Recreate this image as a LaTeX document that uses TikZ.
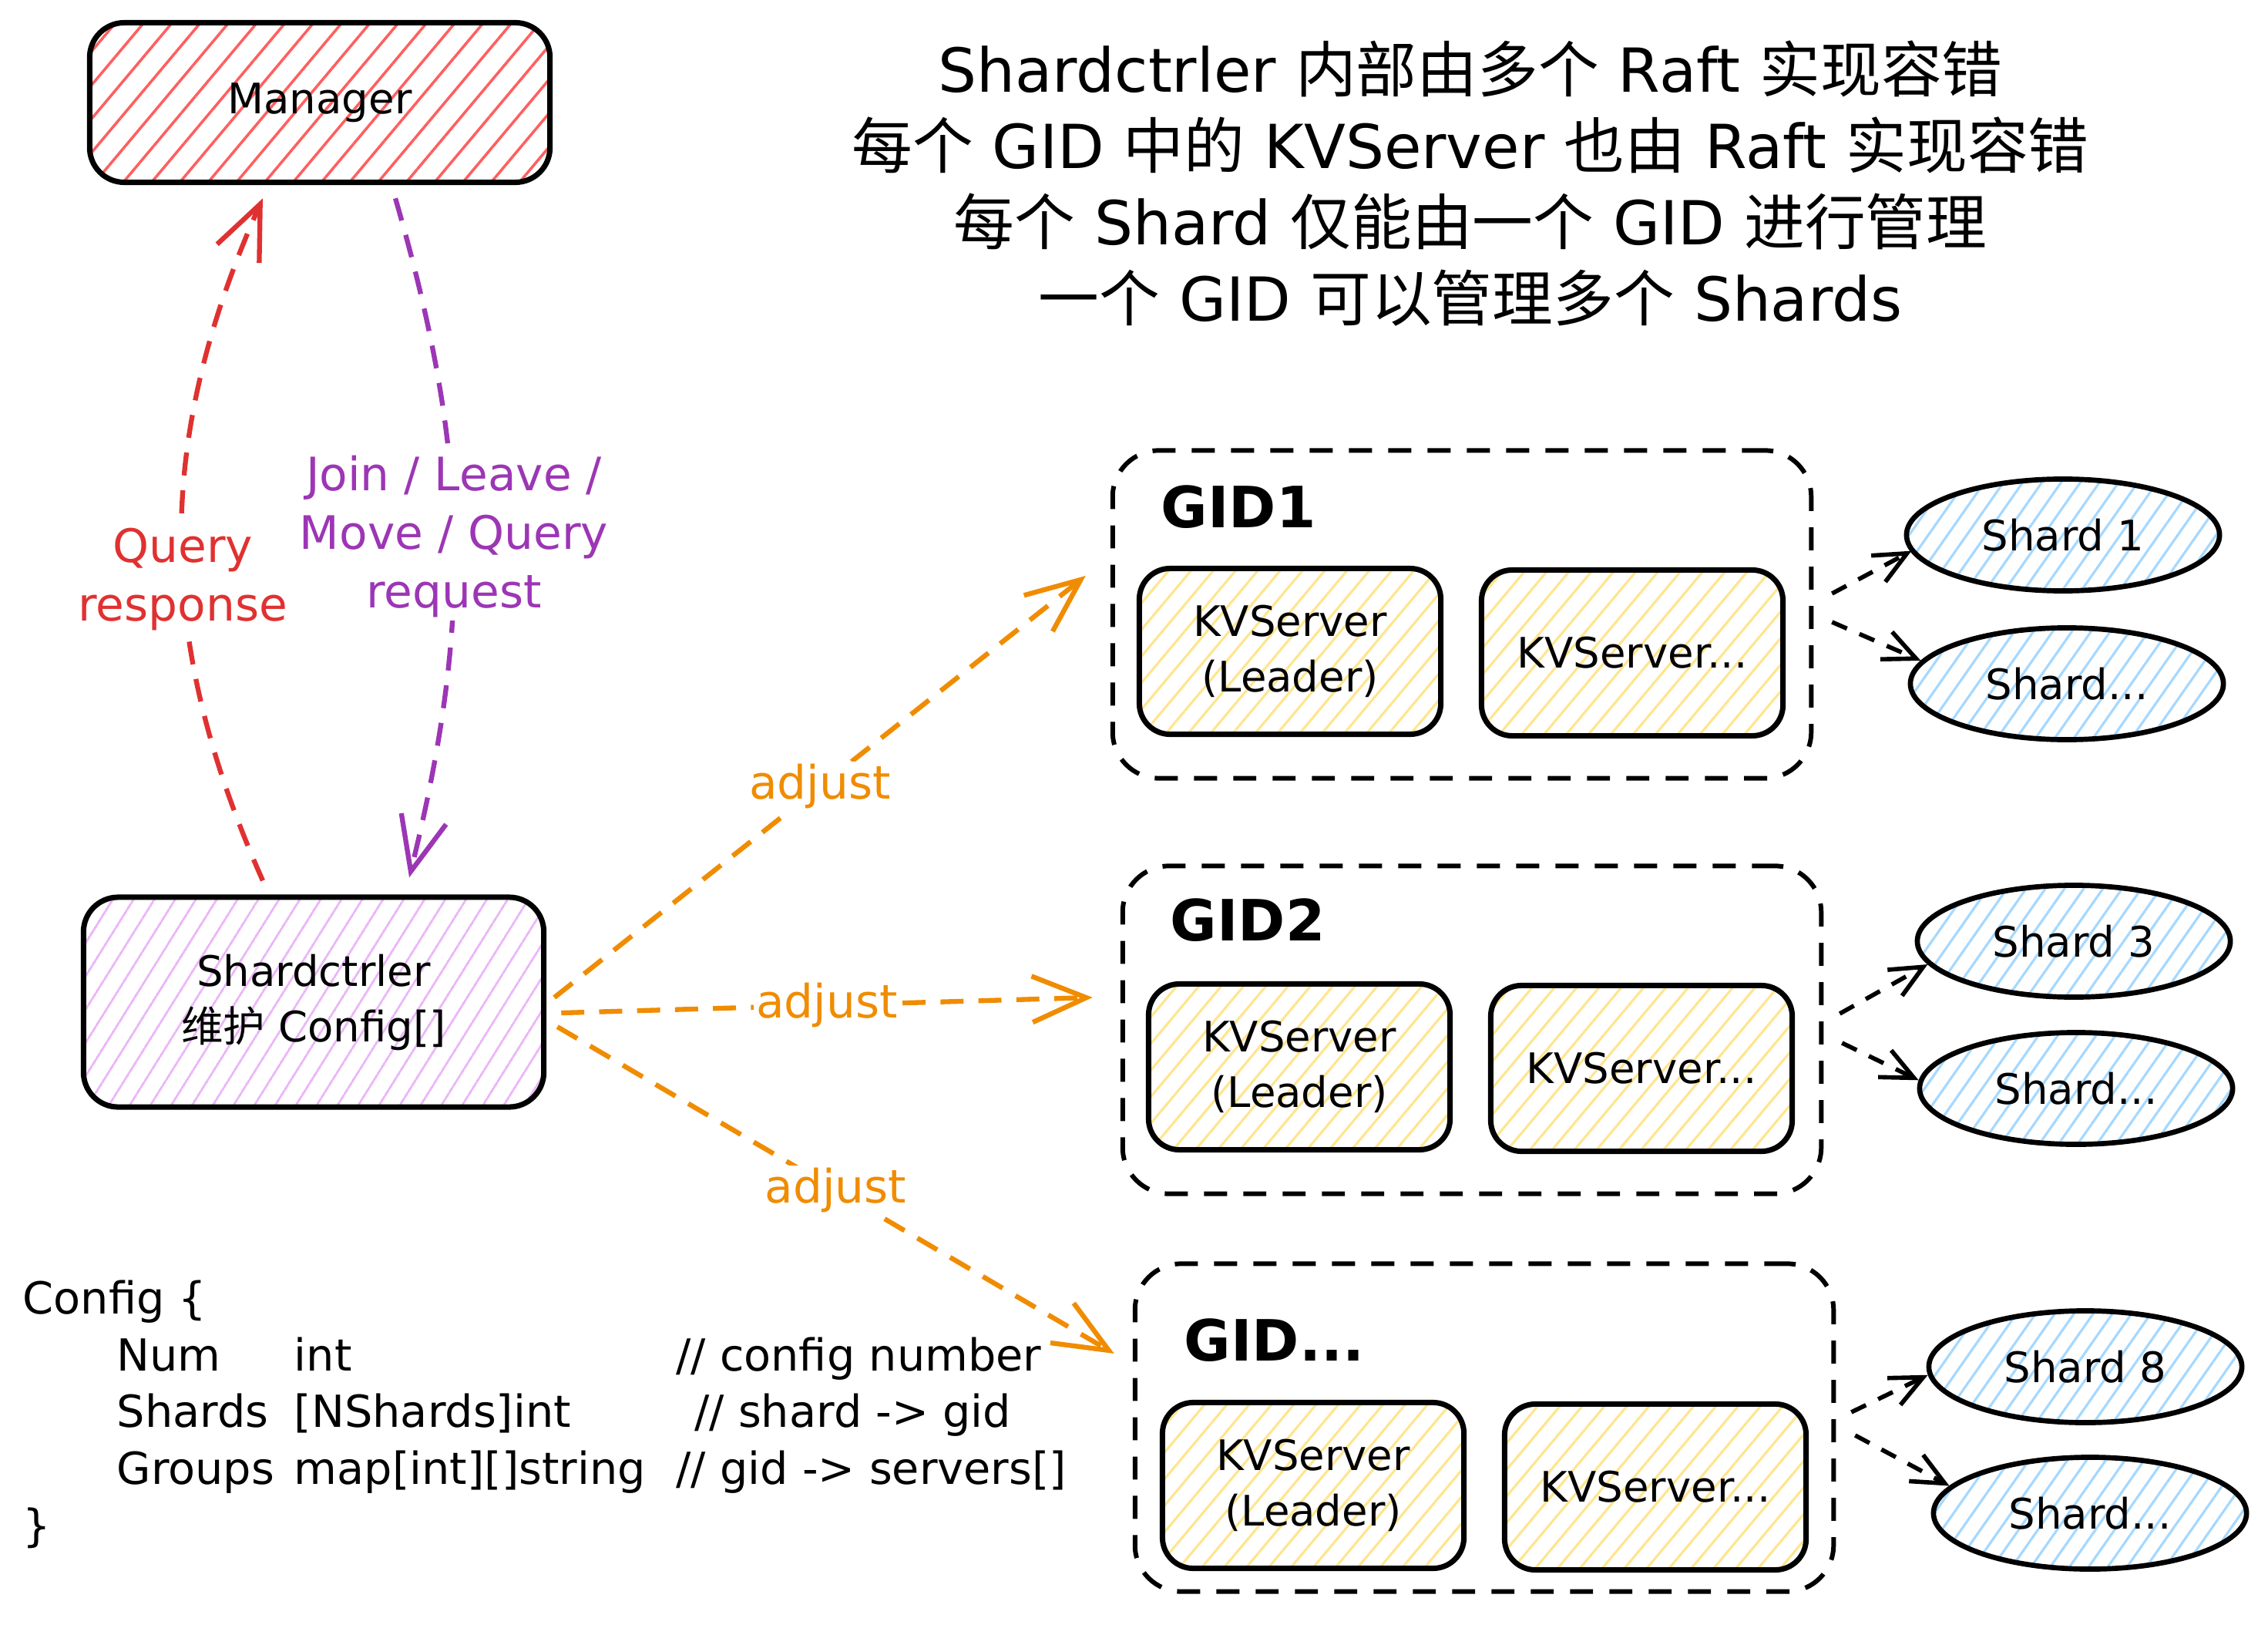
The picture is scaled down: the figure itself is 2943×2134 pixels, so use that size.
\documentclass[tikz,border=0pt]{standalone}
\usepackage{fontspec}
\setmainfont{DejaVu Sans}
\newfontfamily\cjk{Noto Sans CJK SC}
\usetikzlibrary{shapes.geometric}
\usetikzlibrary{arrows.meta}
\usetikzlibrary{patterns.meta}
\usepackage{xcolor}
\definecolor{arrowred}{HTML}{E03131}
\definecolor{arrowpurple}{HTML}{9C36B5}
\definecolor{arroworange}{HTML}{F08C00}
\definecolor{hatchred}{HTML}{FF5F5F}
\definecolor{hatchpurple}{HTML}{EAB6F7}
\definecolor{hatchyellow}{HTML}{FFE58F}
\definecolor{hatchblue}{HTML}{A5D8FF}
\newcommand{\titlefont}{\fontsize{22.4}{28.2}\selectfont}
\newcommand{\txtfont}{\fontsize{15.5}{20.5}\selectfont}
\newcommand{\codefont}{\fontsize{16.3}{21}\selectfont}
\newcommand{\arrowfont}{\fontsize{17}{21.6}\selectfont}
\newcommand{\gidfont}{\fontsize{21}{25}\selectfont\bfseries}
\tikzset{
  box/.style={draw, line width=2pt, rounded corners=0.45cm, align=center, font=\txtfont, minimum width=5.97cm},
  kvbox/.style={draw, line width=2pt, rounded corners=0.4cm, align=center, font=\txtfont,
    minimum width=3.91cm, minimum height=2.15cm,
    pattern={Lines[angle=50,distance=6.3pt,line width=0.9pt]}, pattern color=hatchyellow},
  shard/.style={draw, ellipse, line width=1.9pt, inner sep=0pt, font=\txtfont,
    minimum width=4.06cm, minimum height=1.45cm,
    pattern={Lines[angle=55,distance=5.8pt,line width=0.9pt]}, pattern color=hatchblue},
  group/.style={draw, line width=1.7pt, dash pattern=on 8.5pt off 6pt, rounded corners=0.6cm,
    minimum width=9.06cm, minimum height=4.25cm},
  gidlabel/.style={anchor=west, font=\gidfont, inner sep=0pt},
  flow/.style={line width=1.8pt, dash pattern=on 8.5pt off 5.5pt, -{Straight Barb[length=20pt,width=17pt]}},
  shardarrow/.style={line width=1.6pt, dash pattern=on 6pt off 5pt, -{Straight Barb[length=12pt,width=11pt]}},
  flowlabel/.style={fill=white, inner sep=1pt, align=center, font=\arrowfont}
}
\begin{document}
\begin{tikzpicture}[x=0.01cm, y=-0.01cm]
\useasboundingbox (0,0) rectangle (2943,2134);

% Title
\node[font=\titlefont, align=center] (title) at (1908,238)
  {Shardctrler {\cjk 内部由多个} Raft {\cjk 实现容错}\\
   {\cjk 每个} GID {\cjk 中的} KVServer {\cjk 也由} Raft {\cjk 实现容错}\\
   {\cjk 每个} Shard {\cjk 仅能由一个} GID {\cjk 进行管理}\\
   {\cjk 一个} GID {\cjk 可以管理多个} Shards};

% Manager and Shardctrler
\node[box, minimum height=2.07cm, pattern={Lines[angle=50,distance=8pt,line width=1pt]}, pattern color=hatchred] (manager) at (415,133) {Manager};
\node[box, minimum height=2.72cm, pattern={Lines[angle=58,distance=6.5pt,line width=0.9pt]}, pattern color=hatchpurple] (ctrl) at (407,1300) {Shardctrler\\{\cjk 维护} Config[]};

% GID1
\node[group] (gid1) at (1897,797) {};
\node[gidlabel] (gid1label) at (1506,658) {GID1};
\node[kvbox] (kv1a) at (1674,845) {KVServer\\(Leader)};
\node[kvbox] (kv1b) at (2118,847) {KVServer...};
\node[shard] (s1) at (2677,694) {Shard 1};
\node[shard] (s2) at (2682,887) {Shard...};

% GID2
\node[group] (gid2) at (1910,1336) {};
\node[gidlabel] (gid2label) at (1518,1194) {GID2};
\node[kvbox] (kv2a) at (1686,1384) {KVServer\\(Leader)};
\node[kvbox] (kv2b) at (2130,1386) {KVServer...};
\node[shard] (s3) at (2691,1221) {Shard 3};
\node[shard] (s4) at (2694,1412) {Shard...};

% GID...
\node[group] (gid3) at (1926,1852) {};
\node[gidlabel] (gid3label) at (1536,1739) {GID...};
\node[kvbox] (kv3a) at (1704,1927) {KVServer\\(Leader)};
\node[kvbox] (kv3b) at (2148,1929) {KVServer...};
\node[shard] (s8) at (2706,1773) {Shard 8};
\node[shard] (s9) at (2712,1963) {Shard...};

% Config struct
\node[anchor=north west, font=\codefont, align=left, inner sep=0pt] (config) at (29,1660)
  {Config \{\\
   \hspace*{1.22cm}\makebox[2.3cm][l]{Num}\makebox[4.95cm][l]{int}// config number\\
   \hspace*{1.22cm}\makebox[2.3cm][l]{Shards}\makebox[4.95cm][l]{[NShards]int}\hspace*{0.24cm}// shard -> gid\\
   \hspace*{1.22cm}\makebox[2.3cm][l]{Groups}\makebox[4.95cm][l]{map[int][]string}// gid -> servers[]\\
   \}};

% Manager <-> Shardctrler
\draw[flow, arrowred] ([xshift=-0.66cm,yshift=0.2cm]ctrl.north) to[bend left=24]
  node[pos=0.44, flowlabel, text=arrowred] (qresp) {Query\\response} ([xshift=-0.74cm,yshift=-0.19cm]manager.south);
\draw[flow, arrowpurple] ([xshift=0.98cm,yshift=-0.19cm]manager.south) to[bend left=15]
  node[pos=0.5, flowlabel, text=arrowpurple] (req) {Join / Leave /\\Move / Query\\request} ([xshift=1.24cm,yshift=0.24cm]ctrl.north);

% Shardctrler adjusts groups
\draw[flow, arroworange] ([xshift=0.12cm,yshift=0.06cm]ctrl.east) -- node[flowlabel, text=arroworange] {adjust} ([xshift=-0.32cm,yshift=0.5cm]gid1.west);
\draw[flow, arroworange] ([xshift=0.21cm,yshift=-0.14cm]ctrl.east) -- node[flowlabel, text=arroworange] {adjust} ([xshift=-0.36cm,yshift=0.42cm]gid2.west);
\draw[flow, arroworange] ([xshift=0.16cm,yshift=-0.32cm]ctrl.east) -- node[flowlabel, text=arroworange] {adjust} ([xshift=-0.24cm,yshift=0.96cm]gid3.west);

% groups own shards
\draw[shardarrow] ([xshift=0.24cm,yshift=0.27cm]gid1.east) -- (s1.186);
\draw[shardarrow] ([xshift=0.24cm,yshift=-0.1cm]gid1.east) -- (s2.171);
\draw[shardarrow] ([xshift=0.21cm,yshift=0.21cm]gid2.east) -- (s3.189);
\draw[shardarrow] ([xshift=0.24cm,yshift=-0.17cm]gid2.east) -- (s4.177);
\draw[shardarrow] ([xshift=0.2cm,yshift=0.2cm]gid3.east) -- (s8.183);
\draw[shardarrow] ([xshift=0.25cm,yshift=-0.1cm]gid3.east) -- (s9.169);
\end{tikzpicture}
\end{document}
